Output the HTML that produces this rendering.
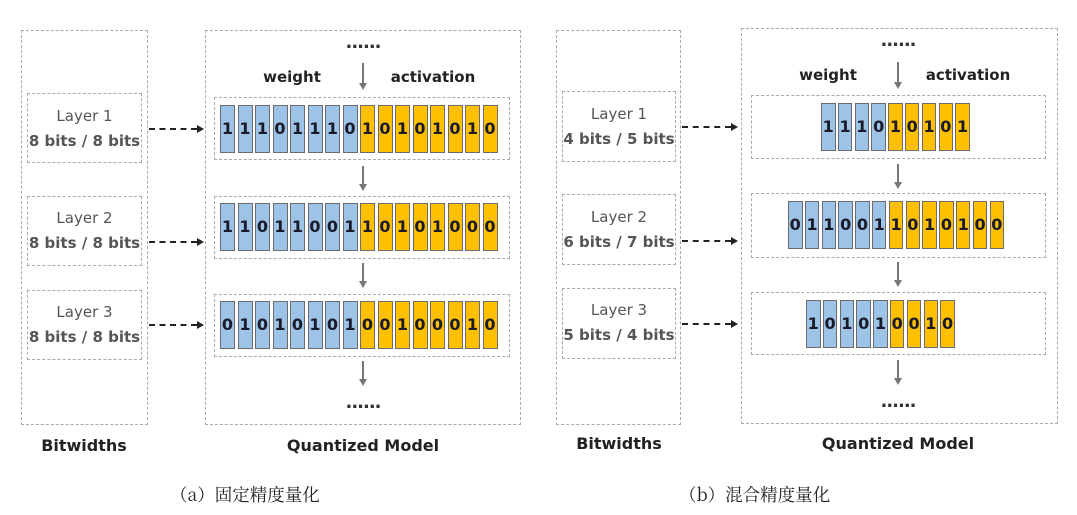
<!DOCTYPE html>
<html><head><meta charset="utf-8"><style>
body{margin:0;width:1077px;height:515px;background:#fff;position:relative;overflow:hidden;font-family:"DejaVu Sans","Liberation Sans",sans-serif;}
.a{position:absolute;}
.d{position:absolute;border:1.3px dashed #aaa;box-sizing:border-box;}
.row{position:absolute;display:flex;}
.row span{display:block;height:48px;box-sizing:border-box;border:1px solid #6b6b6b;font:bold 16px "DejaVu Sans",sans-serif;color:#1a1a2a;text-align:center;line-height:46px;}
.L span{width:15px;margin-right:2.5px}
.R span{width:14.5px;margin-right:2.3px}
.b{background:#9dc3e6}.y{background:#ffc000}
.lt{position:absolute;text-align:center;color:#555;font-size:15px;line-height:25px;}
.t{position:absolute;font-weight:bold;font-size:15px;color:#222;transform:translateX(-50%);white-space:nowrap}
.dots{position:absolute;font-weight:bold;font-size:18px;color:#333;transform:translateX(-50%);letter-spacing:-1px}
.vl{position:absolute;width:1.5px;background:#777}
.vh{position:absolute;width:0;height:0;border-left:4px solid transparent;border-right:4px solid transparent;border-top:7px solid #777}
.hd{position:absolute;height:0;border-top:2px dashed #222}
.hh{position:absolute;width:0;height:0;border-top:4px solid transparent;border-bottom:4px solid transparent;border-left:7px solid #222}
.cap{position:absolute;font-family:"Noto Serif CJK SC","Noto Sans CJK SC",serif;font-size:17.5px;color:#222;white-space:nowrap}
</style></head><body>

<!-- Panel A -->
<div class="d" style="left:21px;top:30px;width:127px;height:395px"></div>
<div class="d" style="left:27px;top:93px;width:115px;height:70px"></div>
<div class="d" style="left:27px;top:196px;width:115px;height:70px"></div>
<div class="d" style="left:27px;top:290px;width:115px;height:70px"></div>
<div class="lt" style="left:27px;top:104px;width:115px">Layer 1<br><b>8 bits / 8 bits</b></div>
<div class="lt" style="left:27px;top:206px;width:115px">Layer 2<br><b>8 bits / 8 bits</b></div>
<div class="lt" style="left:27px;top:300px;width:115px">Layer 3<br><b>8 bits / 8 bits</b></div>
<div class="d" style="left:205px;top:30px;width:316px;height:395px"></div>
<div class="dots" style="left:363px;top:32px">......</div>
<div class="t" style="left:292px;top:68px">weight</div>
<div class="t" style="left:433px;top:68px">activation</div>
<div class="d" style="left:214px;top:97px;width:296px;height:63px"></div>
<div class="d" style="left:214px;top:196px;width:296px;height:63px"></div>
<div class="d" style="left:214px;top:294px;width:296px;height:63px"></div>
<div class="row L" style="left:220px;top:105px"><span class="b">1</span><span class="b">1</span><span class="b">1</span><span class="b">0</span><span class="b">1</span><span class="b">1</span><span class="b">1</span><span class="b">0</span><span class="y">1</span><span class="y">0</span><span class="y">1</span><span class="y">0</span><span class="y">1</span><span class="y">0</span><span class="y">1</span><span class="y">0</span></div>
<div class="row L" style="left:220px;top:203px"><span class="b">1</span><span class="b">1</span><span class="b">0</span><span class="b">1</span><span class="b">1</span><span class="b">0</span><span class="b">0</span><span class="b">1</span><span class="y">1</span><span class="y">0</span><span class="y">1</span><span class="y">0</span><span class="y">1</span><span class="y">0</span><span class="y">0</span><span class="y">0</span></div>
<div class="row L" style="left:220px;top:301px"><span class="b">0</span><span class="b">1</span><span class="b">0</span><span class="b">1</span><span class="b">0</span><span class="b">1</span><span class="b">0</span><span class="b">1</span><span class="y">0</span><span class="y">0</span><span class="y">1</span><span class="y">0</span><span class="y">0</span><span class="y">0</span><span class="y">1</span><span class="y">0</span></div>
<div class="vl" style="left:362px;top:63px;height:20px"></div><div class="vh" style="left:359px;top:83px"></div>
<div class="vl" style="left:362px;top:166px;height:18px"></div><div class="vh" style="left:359px;top:184px"></div>
<div class="vl" style="left:362px;top:263px;height:18px"></div><div class="vh" style="left:359px;top:281px"></div>
<div class="vl" style="left:362px;top:361px;height:18px"></div><div class="vh" style="left:359px;top:379px"></div>
<div class="dots" style="left:363px;top:392px">......</div>
<div class="hd" style="left:149px;top:128px;width:48px"></div><div class="hh" style="left:197px;top:125px"></div>
<div class="hd" style="left:149px;top:241px;width:48px"></div><div class="hh" style="left:197px;top:238px"></div>
<div class="hd" style="left:149px;top:324px;width:48px"></div><div class="hh" style="left:197px;top:321px"></div>
<div class="t" style="left:84px;top:436px;font-size:16px">Bitwidths</div>
<div class="t" style="left:363px;top:436px;font-size:16px">Quantized Model</div>
<div class="cap" style="left:170px;top:482px">（a）固定精度量化</div>

<!-- Panel B -->
<div class="d" style="left:556px;top:30px;width:125px;height:395px"></div>
<div class="d" style="left:562px;top:91px;width:114px;height:71px"></div>
<div class="d" style="left:562px;top:194px;width:114px;height:71px"></div>
<div class="d" style="left:562px;top:288px;width:114px;height:71px"></div>
<div class="lt" style="left:562px;top:102px;width:114px">Layer 1<br><b>4 bits / 5 bits</b></div>
<div class="lt" style="left:562px;top:205px;width:114px">Layer 2<br><b>6 bits / 7 bits</b></div>
<div class="lt" style="left:562px;top:298px;width:114px">Layer 3<br><b>5 bits / 4 bits</b></div>
<div class="d" style="left:741px;top:28px;width:317px;height:396px"></div>
<div class="dots" style="left:898px;top:30px">......</div>
<div class="t" style="left:828px;top:66px">weight</div>
<div class="t" style="left:968px;top:66px">activation</div>
<div class="d" style="left:751px;top:95px;width:295px;height:64px"></div>
<div class="d" style="left:751px;top:193px;width:295px;height:65px"></div>
<div class="d" style="left:751px;top:292px;width:295px;height:63px"></div>
<div class="row R" style="left:821px;top:103px"><span class="b">1</span><span class="b">1</span><span class="b">1</span><span class="b">0</span><span class="y">1</span><span class="y">0</span><span class="y">1</span><span class="y">0</span><span class="y">1</span></div>
<div class="row R" style="left:788px;top:201px"><span class="b">0</span><span class="b">1</span><span class="b">1</span><span class="b">0</span><span class="b">0</span><span class="b">1</span><span class="y">1</span><span class="y">0</span><span class="y">1</span><span class="y">0</span><span class="y">1</span><span class="y">0</span><span class="y">0</span></div>
<div class="row R" style="left:806px;top:300px"><span class="b">1</span><span class="b">0</span><span class="b">1</span><span class="b">0</span><span class="b">1</span><span class="y">0</span><span class="y">0</span><span class="y">1</span><span class="y">0</span></div>
<div class="vl" style="left:897px;top:62px;height:20px"></div><div class="vh" style="left:894px;top:82px"></div>
<div class="vl" style="left:897px;top:164px;height:18px"></div><div class="vh" style="left:894px;top:182px"></div>
<div class="vl" style="left:897px;top:262px;height:18px"></div><div class="vh" style="left:894px;top:280px"></div>
<div class="vl" style="left:897px;top:360px;height:18px"></div><div class="vh" style="left:894px;top:378px"></div>
<div class="dots" style="left:898px;top:391px">......</div>
<div class="hd" style="left:682px;top:126px;width:49px"></div><div class="hh" style="left:731px;top:123px"></div>
<div class="hd" style="left:682px;top:240px;width:49px"></div><div class="hh" style="left:731px;top:237px"></div>
<div class="hd" style="left:682px;top:323px;width:49px"></div><div class="hh" style="left:731px;top:320px"></div>
<div class="t" style="left:619px;top:434px;font-size:16px">Bitwidths</div>
<div class="t" style="left:898px;top:434px;font-size:16px">Quantized Model</div>
<div class="cap" style="left:679px;top:482px">（b）混合精度量化</div>
</body></html>
